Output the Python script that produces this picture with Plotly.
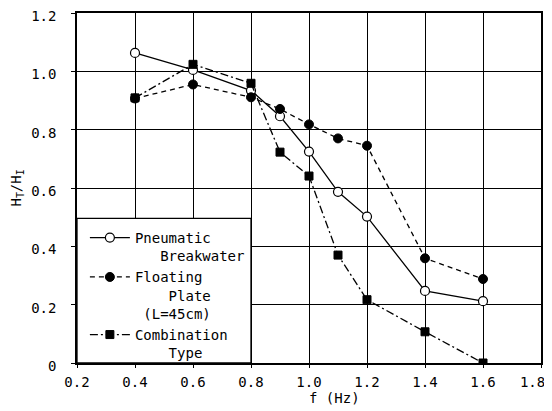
import plotly.graph_objects as go

freq = [0.4, 0.6, 0.8, 0.9, 1.0, 1.1, 1.2, 1.4, 1.6]
pneumatic = [1.063, 1.005, 0.934, 0.846, 0.725, 0.587, 0.502, 0.247, 0.212]
floating = [0.907, 0.955, 0.911, 0.871, 0.818, 0.770, 0.745, 0.359, 0.288]
combination = [0.909, 1.024, 0.959, 0.723, 0.641, 0.370, 0.217, 0.107, 0.0]

names = [
    "Pneumatic<br>\u00a0\u00a0\u00a0Breakwater",
    "Floating<br>\u00a0\u00a0\u00a0\u00a0Plate<br>\u00a0(L=45cm)",
    "Combination<br>\u00a0\u00a0\u00a0\u00a0Type",
]

x_ticks = [0.2, 0.4, 0.6, 0.8, 1.0, 1.2, 1.4, 1.6, 1.8]
x_labels = ["0.2", "0.4", "0.6", "0.8", "1.0", "1.2", "1.4", "1.6", "1.8\u00a0\u00a0"]
y_ticks = [0, 0.2, 0.4, 0.6, 0.8, 1.0, 1.2]
y_labels = ["0", "0.2", "0.4", "0.6", "0.8", "1.0", "1.2"]

FONT = "DejaVu Sans Mono"

fig = go.Figure()
fig.add_trace(go.Scatter(
    x=freq, y=pneumatic, name=names[0], mode="lines+markers",
    line=dict(color="black", width=1.3, dash="solid"),
    marker=dict(symbol="circle", size=9, color="white", line=dict(color="black", width=1.2)),
))
fig.add_trace(go.Scatter(
    x=freq, y=floating, name=names[1], mode="lines+markers",
    line=dict(color="black", width=1.3, dash="5px,4px"),
    marker=dict(symbol="circle", size=9, color="black", line=dict(color="black", width=1)),
))
fig.add_trace(go.Scatter(
    x=freq, y=combination, name=names[2], mode="lines+markers",
    line=dict(color="black", width=1.3, dash="8px,3px,2px,3px"),
    marker=dict(symbol="square", size=8, color="black", line=dict(color="black", width=1)),
))

fig.add_shape(type="rect", xref="x", yref="y", x0=0.2, x1=0.8, y0=0, y1=0.496,
              fillcolor="white", line=dict(color="black", width=1.3), layer="above")

fig.add_annotation(text="f (Hz)", xref="paper", yref="paper", x=0.556, y=-0.1,
                   xanchor="center", yanchor="middle", showarrow=False,
                   font=dict(family=FONT, size=14, color="black"))

# page body has an 8px default margin, so the figure is sized to fit inside the window
fig.update_layout(
    width=544, height=403,
    margin=dict(l=69, r=11, t=5, b=48),
    paper_bgcolor="white", plot_bgcolor="white",
    font=dict(family=FONT, size=14, color="black"),
    showlegend=True,
    legend=dict(
        x=0.017, y=-0.017, xref="paper", yref="paper", xanchor="left", yanchor="bottom",
        bgcolor="rgba(0,0,0,0)", borderwidth=0,
        font=dict(family=FONT, size=14, color="black"),
        valign="top", tracegroupgap=6, itemwidth=40,
    ),
    xaxis=dict(
        range=[0.2, 1.8], tickvals=x_ticks, ticktext=x_labels,
        showgrid=True, gridcolor="black", gridwidth=1,
        showline=True, linecolor="black", linewidth=1.5, mirror=True,
        ticks="outside", ticklen=3, tickcolor="black",
        zeroline=False, ticklabelstandoff=2, automargin=False,
        ticklabeloverflow="allow",
    ),
    yaxis=dict(
        range=[0, 1.2], tickvals=y_ticks, ticktext=y_labels,
        showgrid=True, gridcolor="black", gridwidth=1,
        showline=True, linecolor="black", linewidth=1.5, mirror=True,
        ticks="outside", ticklen=4, tickcolor="black",
        zeroline=False, ticklabelstandoff=12, automargin=False,
        ticklabeloverflow="allow", ticklabelshift=3,
        title=dict(text="H<sub>T</sub>/H<sub>I</sub>", font=dict(family=FONT, size=14), standoff=10),
    ),
)

fig.write_html("out.html")
